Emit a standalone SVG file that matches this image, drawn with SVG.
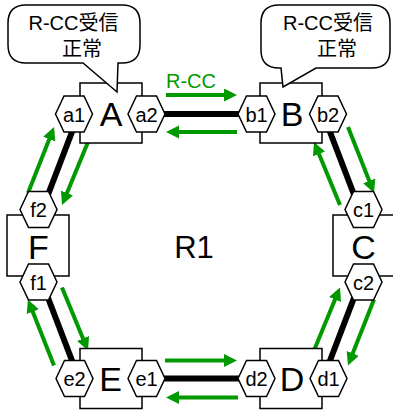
<svg xmlns="http://www.w3.org/2000/svg" xmlns:xlink="http://www.w3.org/1999/xlink" width="393" height="411" viewBox="0 0 393 411">
<style>
text{font-family:"Liberation Sans","Noto Sans CJK JP",sans-serif;fill:#000}
.box{fill:#fff;stroke:#000;stroke-width:1.5}
.hex{fill:#fff;stroke:#000;stroke-width:1.5}
.lbl{font-size:34px;text-anchor:middle}
.port{font-size:20px;text-anchor:middle}
.call{fill:#fff;stroke:#000;stroke-width:1.5;stroke-linejoin:miter}
.ct{font-size:20px;text-anchor:middle}
.link{stroke:#000;stroke-width:6;fill:none}
.g{stroke:#009900;stroke-width:4;fill:none;marker-end:url(#ah)}
</style>
<defs>
<polygon id="hx" points="-18.5,0 -10,-18 10,-18 18.5,0 10,18 -10,18"/>
<marker id="ah" markerUnits="userSpaceOnUse" markerWidth="14" markerHeight="14" refX="8" refY="6.5" orient="auto">
<path d="M0,0 L13,6.5 L0,13 z" fill="#009900"/>
</marker>
</defs>
<g id="connectors">
<line class="link" x1="160" y1="114" x2="243" y2="114"/>
<line class="link" x1="160" y1="378.5" x2="243" y2="378.5"/>
<line class="link" x1="73.5" y1="128" x2="47.5" y2="196"/>
<line class="link" x1="328.5" y1="128" x2="354.5" y2="196"/>
<line class="link" x1="47.5" y1="296.5" x2="73.5" y2="364.5"/>
<line class="link" x1="354.5" y1="296.5" x2="328.5" y2="364.5"/>
<line class="g" x1="166" y1="95" x2="232" y2="95"/>
<line class="g" x1="237" y1="132" x2="171" y2="132"/>
<line class="g" x1="165" y1="360.5" x2="232" y2="360.5"/>
<line class="g" x1="238" y1="397.5" x2="171" y2="397.5"/>
<line class="g" x1="28" y1="193" x2="52.2" y2="131.7"/>
<line class="g" x1="88" y1="142" x2="63.9" y2="200.4"/>
<line class="g" x1="348" y1="127" x2="372.2" y2="188.3"/>
<line class="g" x1="340" y1="205" x2="315.9" y2="146.6"/>
<line class="g" x1="54" y1="365.5" x2="29.8" y2="304.2"/>
<line class="g" x1="62" y1="287.5" x2="86.1" y2="345.9"/>
<line class="g" x1="374" y1="299.5" x2="349.8" y2="360.8"/>
<line class="g" x1="314" y1="350.5" x2="338.1" y2="292.1"/>
<text x="166" y="88" style="font-size:20px;fill:#009900">R-CC</text>
</g>
<g id="nodeA">
<rect class="box" x="80" y="83" width="62" height="60"/>
<use xlink:href="#hx" class="hex" x="74" y="114"/>
<use xlink:href="#hx" class="hex" x="146.5" y="114"/>
<text class="lbl" x="111" y="126">A</text>
<text class="port" x="74" y="121.5">a1</text>
<text class="port" x="146.5" y="121.5">a2</text>
</g>
<g id="nodeB">
<rect class="box" x="260" y="83" width="62" height="60"/>
<use xlink:href="#hx" class="hex" x="256.5" y="114"/>
<use xlink:href="#hx" class="hex" x="328" y="114"/>
<text class="lbl" x="292" y="126">B</text>
<text class="port" x="256.5" y="121.5">b1</text>
<text class="port" x="328" y="121.5">b2</text>
</g>
<g id="nodeC">
<rect class="box" x="333" y="215" width="62" height="61"/>
<use xlink:href="#hx" class="hex" x="363.5" y="209.5"/>
<use xlink:href="#hx" class="hex" x="363.5" y="282"/>
<text class="lbl" x="363.5" y="258.5">C</text>
<text class="port" x="363.5" y="217">c1</text>
<text class="port" x="363.5" y="289.5">c2</text>
</g>
<g id="nodeD">
<rect class="box" x="260" y="348.5" width="62" height="60"/>
<use xlink:href="#hx" class="hex" x="256.5" y="378.5"/>
<use xlink:href="#hx" class="hex" x="328.5" y="378.5"/>
<text class="lbl" x="292" y="391">D</text>
<text class="port" x="256.5" y="386">d2</text>
<text class="port" x="328.5" y="386">d1</text>
</g>
<g id="nodeE">
<rect class="box" x="80" y="348.5" width="62" height="60"/>
<use xlink:href="#hx" class="hex" x="74.5" y="378.5"/>
<use xlink:href="#hx" class="hex" x="146.5" y="378.5"/>
<text class="lbl" x="110.5" y="391">E</text>
<text class="port" x="74.5" y="386">e2</text>
<text class="port" x="146.5" y="386">e1</text>
</g>
<g id="nodeF">
<rect class="box" x="7" y="215" width="62" height="61"/>
<use xlink:href="#hx" class="hex" x="38.5" y="209.5"/>
<use xlink:href="#hx" class="hex" x="38.5" y="282"/>
<text class="lbl" x="38.5" y="258.5">F</text>
<text class="port" x="38.5" y="217">f2</text>
<text class="port" x="38.5" y="289.5">f1</text>
</g>
<g id="ring">
<text x="194" y="258" style="font-size:31px;text-anchor:middle">R1</text>
</g>
<g id="calloutA">
<path class="call" d="M26,5 H122 Q140,5 140,23 V45 Q140,63 122,63 H118 L117,92 L83,63 H26 Q8,63 8,45 V23 Q8,5 26,5 Z"/>
<text class="ct" x="73.5" y="30">R-CC受信</text>
<text class="ct" x="82" y="56">正常</text>
</g>
<g id="calloutB">
<path class="call" d="M279,5 H372 Q390,5 390,23 V50 Q390,68 372,68 H316 L283,87 L281,68 H279 Q261,68 261,50 V23 Q261,5 279,5 Z"/>
<text class="ct" x="328" y="30">R-CC受信</text>
<text class="ct" x="337" y="56">正常</text>
</g>
</svg>
